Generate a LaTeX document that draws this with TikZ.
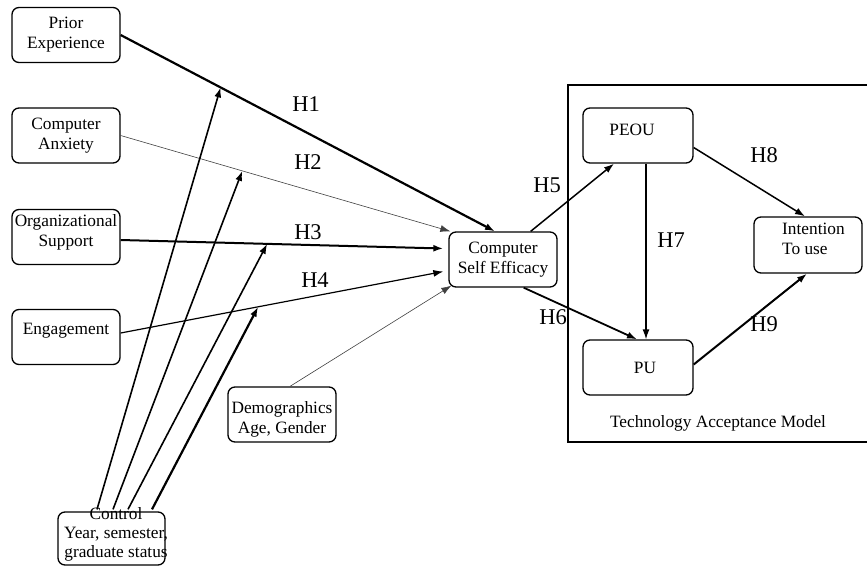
\documentclass[tikz,border=0pt]{standalone}
\usepackage{fontspec}
\setmainfont{Liberation Serif}
\usetikzlibrary{arrows.meta,calc}
\begin{document}
\begin{tikzpicture}[x=1pt,y=-1pt,
  box/.style={draw, line width=1.3pt, rounded corners=7pt, minimum width=108pt, minimum height=55pt, inner sep=0pt, align=center, font=\fontsize{17.3}{20}\selectfont},
  txt/.style={inner sep=0pt, align=center, font=\fontsize{17.3}{20}\selectfont},
  hlab/.style={inner sep=0pt, font=\fontsize{22.5}{26}\selectfont},
  arr/.style={-{Latex[length=10pt,width=7pt]}},
  thickline/.style={arr, line width=2pt},
  medline/.style={arr, line width=1.5pt},
  thinline/.style={arr, line width=0.6pt, draw=black!75},
  ctrlline/.style={arr, line width=1.6pt}]
\useasboundingbox (0,0) rectangle (867,568);

% left boxes
\node[box] (pe) at (66,35) {Prior\\Experience};
\node[box] (ca) at (66,135.5) {Computer\\Anxiety};
\node[box] (os) at (66,237) {};
\node[txt] (ost) at (66,232) {Organizational\\Support};
\node[box] (en) at (66,337) {};
\node[txt] (ent) at (66,331) {Engagement};
\node[box, minimum width=107pt, minimum height=53pt] (ctrl) at (111.5,538.5) {};
\node[txt, font=\fontsize{17.3}{19}\selectfont] (ctrlt) at (116,534) {Control\\Year, semester,\\graduate status};
\node[box] (demo) at (282,414.5) {};
\node[txt] (demot) at (282,419) {Demographics\\Age, Gender};

% central
\node[box] (cse) at (503,259.5) {Computer\\Self Efficacy};

% TAM
\node[box, minimum width=110pt] (peou) at (638,135.5) {};
\node[txt] (peout) at (632,130) {PEOU};
\node[box, minimum width=110pt] (pu) at (638,367.5) {};
\node[txt] (put) at (645,368) {PU};
\node[box, minimum height=56pt] (int) at (808,245) {};
\node[txt, align=left, anchor=west] (intt) at (782,239) {Intention\\To use};
\node[txt] (tam) at (718,423) {Technology Acceptance Model};

% endpoints
\coordinate (h1s) at (pe.east);
\coordinate (h1e) at ($(cse.north)+(-8,0)$);
\coordinate (h2s) at (ca.east);
\coordinate (h2e) at ($(cse.north west)+(2,0)$);
\coordinate (h3s) at ($(os.east)+(0,3)$);
\coordinate (h3e) at ($(cse.west)+(-5,-11)$);
\coordinate (h4s) at ($(en.east)+(0,-4)$);
\coordinate (h4e) at ($(cse.west)+(-5,12)$);

% H1-H4
\draw[thickline, line width=2.2pt] (h1s) -- (h1e);
\draw[thinline] (h2s) -- (h2e);
\draw[thickline] (h3s) -- (h3e);
\draw[arr, line width=1.2pt] (h4s) -- (h4e);
\draw[thinline] ($(demo.north)+(8,0)$) -- ($(cse.south west)+(3,-2)$);

% control arrows
\draw[ctrlline] ($(ctrl.north)+(-14.5,-2)$) -- ($(h1s)!0.267!(h1e)$);
\draw[ctrlline] ($(ctrl.north)+(1.5,-2)$) -- ($(h2s)!0.369!(h2e)$);
\draw[ctrlline] ($(ctrl.north)+(16.5,-2)$) -- ($(h3s)!0.454!(h3e)$);
\draw[ctrlline, line width=2.2pt] ($(ctrl.north)+(40.5,-2)$) -- ($(h4s)!0.426!(h4e)$);

% TAM arrows
\draw[medline] ($(cse.north east)+(-27,0)$) -- ($(peou.south)+(-24,0)$);
\draw[medline, line width=1.8pt] ($(cse.south east)+(-34,0)$) -- ($(pu.north)+(-1,0)$);
\draw[medline, line width=1.3pt] ($(peou.south)+(8,0)$) -- ($(pu.north)+(8,0)$);
\draw[medline] ($(peou.east)+(0,12)$) -- ($(int.north)+(-3,0)$);
\draw[thickline] ($(pu.east)+(0,-3)$) -- ($(int.south)+(-1,0)$);

% labels
\node[hlab] (l1) at (306,104) {H1};
\node[hlab] (l2) at (308,162) {H2};
\node[hlab] (l3) at (308,232) {H3};
\node[hlab] (l4) at (315,280) {H4};
\node[hlab] (l5) at (547,185) {H5};
\node[hlab] (l6) at (553,317) {H6};
\node[hlab] (l7) at (671,240) {H7};
\node[hlab] (l8) at (764,155) {H8};
\node[hlab] (l9) at (764,324) {H9};

% frame
\draw[line width=1.5pt] (867,85) -- (568,85) -- (568,442) -- (867,442);
\end{tikzpicture}
\end{document}
